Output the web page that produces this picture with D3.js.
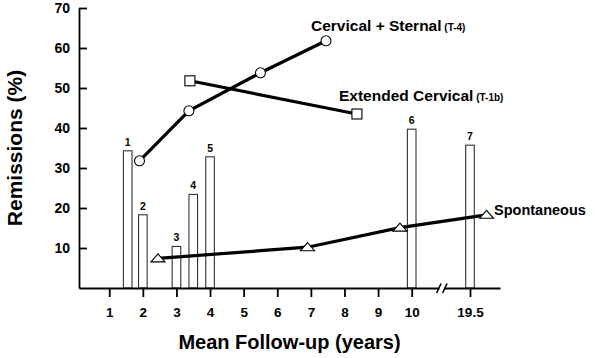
<!DOCTYPE html>
<html>
<head>
<meta charset="utf-8">
<script src="https://cdn.jsdelivr.net/npm/d3@7"></script>
<style>
  html, body { margin: 0; padding: 0; background: #fff; }
  svg { display: block; font-family: "Liberation Sans", Arial, Helvetica, sans-serif; font-weight: bold; }
</style>
</head>
<body>
<svg id="chart" width="595" height="358"></svg>
<script>
// ---- data ----
const xTicks = [1, 2, 3, 4, 5, 6, 7, 8, 9, 10, 19.5];
const yTicks = [10, 20, 30, 40, 50, 60, 70];

const barLabels = ["1", "2", "3", "4", "5", "6", "7"];
const barX = [1.55, 2.0, 3.0, 3.5, 4.0, 10, 19.5];
const barValues = [34.3, 18.3, 10.4, 23.4, 32.8, 39.7, 35.7];

const sternalX = [1.9, 3.37, 5.5, 7.45];
const sternalY = [31.8, 44.3, 53.8, 61.8];

const extendedX = [3.4, 8.37];
const extendedY = [51.8, 43.5];

const spontX = [2.45, 6.9, 9.65, 22.2];
const spontY = [7.4, 10.2, 15.1, 18.3];

// ---- layout ----
const svg = d3.select("#chart");
const x = d3.scaleLinear().domain([0.1, 10, 19.5, 24.4]).range([79, 411.7, 470, 500]);
const y = d3.scaleLinear().domain([0, 70]).range([288, 8]);

// bars
const barW = 8.6;
const bars = barX.map((v, i) => ({ x: v, v: barValues[i], label: barLabels[i] }));
svg.append("g").selectAll("rect").data(bars).join("rect")
  .attr("x", d => x(d.x) - barW / 2)
  .attr("y", d => y(d.v))
  .attr("width", barW)
  .attr("height", d => y(0) - y(d.v))
  .attr("fill", "#fff")
  .attr("stroke", "#333")
  .attr("stroke-width", 1.1);
svg.append("g").selectAll("text").data(bars).join("text")
  .attr("x", d => x(d.x))
  .attr("y", d => y(d.v) - 5)
  .attr("text-anchor", "middle")
  .attr("font-size", 10.5)
  .text(d => d.label);

// axes
const yAxis = d3.axisLeft(y).tickValues(yTicks).tickSizeInner(-8).tickSizeOuter(0).tickPadding(9);
const gy = svg.append("g").attr("transform", "translate(79,0)").call(yAxis);
gy.selectAll("text").attr("font-size", 14).attr("font-family", null).attr("fill", "#000");
gy.selectAll("line,path").attr("stroke", "#000").attr("stroke-width", 1.8);
gy.attr("font-family", null);

const xAxis = d3.axisBottom(x).tickValues(xTicks).tickSizeInner(9).tickSizeOuter(0).tickPadding(10).tickFormat(d => d);
const gx = svg.append("g").attr("transform", "translate(0,288)").call(xAxis);
gx.selectAll("text").attr("font-size", 13.5).attr("fill", "#000");
gx.selectAll("line,path").attr("stroke", "#000").attr("stroke-width", 1.8);
gx.attr("font-family", null);

// axis break
const bx = (x(10) + x(19.5)) / 2 + 1;
svg.append("rect").attr("x", bx - 2.5).attr("y", 285).attr("width", 5).attr("height", 6).attr("fill", "#fff");
[-3, 3].forEach(o => {
  svg.append("line")
    .attr("x1", bx + o - 2.2).attr("y1", 293)
    .attr("x2", bx + o + 2.2).attr("y2", 283.5)
    .attr("stroke", "#000").attr("stroke-width", 1.6);
});

// lines
const line = d3.line().x(d => x(d[0])).y(d => y(d[1]));
function series(xs, ys) { return xs.map((v, i) => [v, ys[i]]); }

const sSeries = series(sternalX, sternalY);
const eSeries = series(extendedX, extendedY);
const pSeries = series(spontX, spontY);

[sSeries, eSeries, pSeries].forEach(s => {
  svg.append("path").datum(s).attr("d", line)
    .attr("fill", "none").attr("stroke", "#000").attr("stroke-width", 3.2);
});

// markers
svg.append("g").selectAll("circle").data(sSeries).join("circle")
  .attr("cx", d => x(d[0])).attr("cy", d => y(d[1])).attr("r", 5)
  .attr("fill", "#fff").attr("stroke", "#000").attr("stroke-width", 1.1);

svg.append("g").selectAll("rect").data(eSeries).join("rect")
  .attr("x", d => x(d[0]) - 5).attr("y", d => y(d[1]) - 5)
  .attr("width", 10).attr("height", 10)
  .attr("fill", "#fff").attr("stroke", "#000").attr("stroke-width", 1.1);

svg.append("g").selectAll("path").data(pSeries).join("path")
  .attr("d", d => {
    const cx = x(d[0]), cy = y(d[1]);
    return `M${cx - 7},${cy + 3.5}L${cx},${cy - 4.5}L${cx + 7},${cy + 3.5}Z`;
  })
  .attr("fill", "#fff").attr("stroke", "#000").attr("stroke-width", 1.1);

// series labels
function seriesLabel(tx, ty, main, sub, fs) {
  const t = svg.append("text").attr("x", tx).attr("y", ty).attr("font-size", fs);
  t.append("tspan").text(main);
  if (sub) t.append("tspan").attr("font-size", 10).text(" " + sub);
}
seriesLabel(311, 31, "Cervical + Sternal", "(T-4)", 15.5);
seriesLabel(339, 101, "Extended Cervical", "(T-1b)", 15.5);
seriesLabel(494, 215, "Spontaneous", null, 14.5);

// axis titles
svg.append("text")
  .attr("x", (79 + 500) / 2).attr("y", 349)
  .attr("text-anchor", "middle").attr("font-size", 20)
  .text("Mean Follow-up (years)");
svg.append("text")
  .attr("transform", "translate(22,148) rotate(-90)")
  .attr("text-anchor", "middle").attr("font-size", 21)
  .text("Remissions (%)");
</script>
</body>
</html>
